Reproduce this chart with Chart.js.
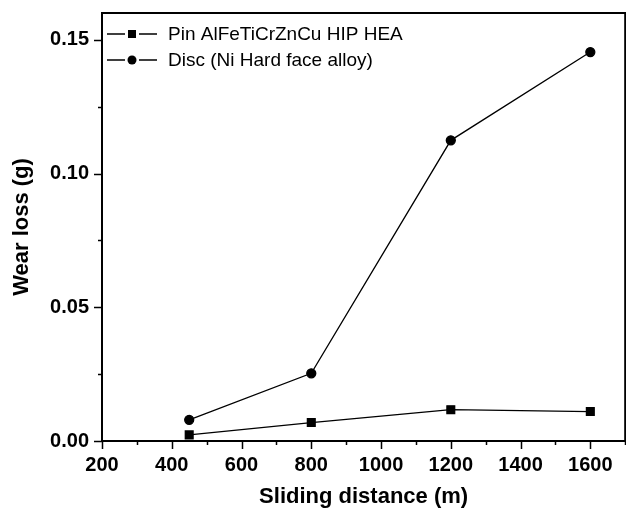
<!DOCTYPE html>
<html>
<head>
<meta charset="utf-8">
<script src="https://cdn.jsdelivr.net/npm/chart.js@4/dist/chart.umd.min.js"></script>
<style>
  html, body { margin: 0; padding: 0; background: #fff; overflow: hidden; }
  #wrap { position: relative; width: 632px; height: 508px; }
</style>
</head>
<body>
<div id="wrap"><canvas id="myChart" width="632" height="508"></canvas></div>
<script>
// data
var distances = [450, 800, 1200, 1600];
var pinLoss = [0.0023, 0.0069, 0.0117, 0.0110];
var discLoss = [0.0079, 0.0253, 0.1124, 0.1454];
var seriesNames = ['Pin AlFeTiCrZnCu HIP HEA', 'Disc (Ni Hard face alloy)'];
var seriesMarkers = ['rect', 'circle'];

var fontFam = "Arial, 'Liberation Sans', sans-serif";

function toPoints(xs, ys) {
    var out = [];
    for (var i = 0; i < xs.length; i++) out.push({x: xs[i], y: ys[i]});
    return out;
}

// frame, outward ticks (major + minor) and the Origin style legend
var originDeco = {
    id: 'originDeco',
    afterDraw: function(chart) {
        var ctx = chart.ctx;
        var a = chart.chartArea;
        var xs = chart.scales.x, ys = chart.scales.y;
        ctx.save();
        ctx.strokeStyle = '#000';
        ctx.lineWidth = 2;
        ctx.strokeRect(a.left, a.top, a.right - a.left, a.bottom - a.top);

        ctx.lineWidth = 1.5;
        ctx.beginPath();
        for (var v = 200; v <= 1700; v += 100) {
            var px = Math.round(xs.getPixelForValue(v)) + 0.5;
            var len = (v % 200 === 0) ? 8 : 4;
            ctx.moveTo(px, a.bottom);
            ctx.lineTo(px, a.bottom + len);
        }
        for (var k = 0; k <= 6; k++) {
            var val = k * 0.025;
            var py = Math.round(ys.getPixelForValue(val)) + 0.5;
            var l2 = (k % 2 === 0) ? 8 : 4;
            ctx.moveTo(a.left, py);
            ctx.lineTo(a.left - l2, py);
        }
        ctx.stroke();

        // legend
        ctx.font = '19px ' + fontFam;
        ctx.textBaseline = 'middle';
        ctx.fillStyle = '#000';
        for (var i = 0; i < seriesNames.length; i++) {
            var ly = a.top + 21 + i * 26;
            var lx = a.left + 5;
            ctx.lineWidth = 1.3;
            ctx.beginPath();
            ctx.moveTo(lx, ly);
            ctx.lineTo(lx + 18, ly);
            ctx.moveTo(lx + 32, ly);
            ctx.lineTo(lx + 50, ly);
            ctx.stroke();
            if (seriesMarkers[i] === 'rect') {
                ctx.fillRect(lx + 21, ly - 4, 8, 8);
            } else {
                ctx.beginPath();
                ctx.arc(lx + 25, ly, 4.5, 0, Math.PI * 2);
                ctx.fill();
            }
            ctx.fillText(seriesNames[i], lx + 61, ly + 1);
        }
        ctx.restore();
    }
};

var ctx = document.getElementById('myChart').getContext('2d');
var myChart = new Chart(ctx, {
    type: 'line',
    data: {
        datasets: [{
            label: seriesNames[0],
            data: toPoints(distances, pinLoss),
            borderColor: '#000',
            backgroundColor: '#000',
            borderWidth: 1.3,
            pointStyle: 'rect',
            pointRadius: 5.5,
            pointHoverRadius: 5.5
        }, {
            label: seriesNames[1],
            data: toPoints(distances, discLoss),
            borderColor: '#000',
            backgroundColor: '#000',
            borderWidth: 1.3,
            pointStyle: 'circle',
            pointRadius: 4.5,
            pointHoverRadius: 4.5
        }]
    },
    options: {
        responsive: false,
        animation: false,
        layout: { padding: { left: 0, right: 0, top: 13, bottom: 0 } },
        plugins: {
            legend: { display: false },
            tooltip: { enabled: false }
        },
        scales: {
            x: {
                type: 'linear',
                min: 200,
                max: 1700,
                grid: { display: false, drawTicks: false },
                border: { display: false },
                ticks: {
                    stepSize: 200,
                    autoSkip: false,
                    includeBounds: false,
                    padding: 12,
                    color: '#000',
                    maxRotation: 0,
                    font: { family: fontFam, size: 20, weight: 'bold' },
                    callback: function(v) { return String(v); }
                },
                title: {
                    display: true,
                    text: 'Sliding distance (m)',
                    color: '#000',
                    padding: { top: 0, bottom: 0 },
                    font: { family: fontFam, size: 22, weight: 'bold', lineHeight: 1 }
                },
                afterFit: function(s) { s.height = 67; s.paddingRight = 0; s.paddingLeft = 0; }
            },
            y: {
                min: 0,
                max: 0.16,
                grid: { display: false, drawTicks: false },
                border: { display: false },
                ticks: {
                    stepSize: 0.05,
                    autoSkip: false,
                    includeBounds: false,
                    padding: 13,
                    color: '#000',
                    font: { family: fontFam, size: 20, weight: 'bold' },
                    callback: function(v) { return v.toFixed(2); }
                },
                title: {
                    display: true,
                    text: 'Wear loss (g)',
                    color: '#000',
                    padding: { top: 9, bottom: 0 },
                    font: { family: fontFam, size: 22, weight: 'bold' }
                },
                afterFit: function(s) { s.width = 102; s.paddingTop = 0; s.paddingBottom = 0; }
            }
        }
    },
    plugins: [originDeco]
});
</script>
</body>
</html>
